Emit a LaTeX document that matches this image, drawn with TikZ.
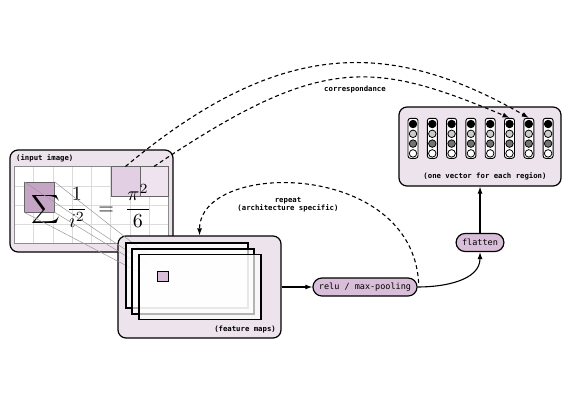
\documentclass[tikz,border=0pt]{standalone}
\usepackage{amsmath}
\usepackage{graphicx}
\usepackage{fontspec}
\setmonofont{DejaVu Sans Mono}
\usepackage{tikz}
\usetikzlibrary{arrows.meta}
\definecolor{panelfill}{HTML}{EDE3ED}
\definecolor{pillfill}{HTML}{D8BED8}
\definecolor{selfill}{HTML}{C6A4C6}
\definecolor{winfill}{HTML}{E3CFE3}
\definecolor{winfilltwo}{HTML}{EFE3EF}
\tikzstyle{panel}=[draw=black, line width=1.2pt, rounded corners=8pt, fill=panelfill, inner sep=0pt]
\tikzstyle{pill}=[draw=black, line width=1.2pt, rounded corners=9pt, fill=pillfill, minimum height=18pt, inner xsep=6pt, font=\ttfamily\fontsize{8.5}{10}\selectfont]
\tikzstyle{caption}=[inner sep=0pt, font=\ttfamily\bfseries\fontsize{7.3}{7.8}\selectfont]
\tikzstyle{arrow}=[draw=black, line width=1.1pt, ->, >={Latex[length=7pt,width=5pt]}]
\tikzstyle{dasharrow}=[arrow, dash pattern=on 4pt off 3pt]
\tikzstyle{window}=[draw=black!60, line width=0.5pt, inner sep=0pt]
\tikzstyle{proj}=[draw=black!40, line width=0.5pt]
\tikzstyle{map}=[draw=black, line width=1.1pt, fill=white, fill opacity=0.7, minimum width=122pt, minimum height=65pt, inner sep=0pt]
\tikzstyle{column}=[draw=black, line width=0.9pt, rounded corners=2.5pt, fill=white, minimum width=10pt, minimum height=40pt, inner sep=0pt]
\tikzstyle{unit}=[circle, draw=black, line width=0.8pt, minimum size=7.5pt, inner sep=0pt]

\begin{document}
\begin{tikzpicture}[x=1pt, y=1pt]
	\useasboundingbox (0,0) rectangle (569,400);
	\begin{scope}
		% input image with its grid
		\node (in) at (91.5,199)[panel, minimum width=163pt, minimum height=102pt] {};
		\node (inlabel) at (16,242)[caption, anchor=west] {(input image)};
		\node (img) at (91.5,195)[fill=white, minimum width=154pt, minimum height=77pt, inner sep=0pt] {};
		\draw[black!14, line width=0.5pt, step=19.25, shift={(img.south west)}] (0,0) grid (154,77);
		\draw[black!45, line width=1pt] (img.south west) rectangle (img.north east);
		\node (sig) at (39.3,203)[window, fill=selfill, minimum size=30pt] {};
		\node (pa) at (125.5,218.3)[window, fill=winfill, minimum width=29pt, minimum height=30pt] {};
		\node (pb) at (154,218.3)[window, fill=winfilltwo, minimum width=28pt, minimum height=30pt] {};
		\node (eq) at (91,194) {\scalebox{2.0}{$\displaystyle\sum\,\frac{1}{i^2}\;=\;\frac{\pi^2}{6}$}};
	\end{scope}
	\begin{scope}
		% feature maps
		\node (fm) at (199.5,113)[panel, minimum width=163pt, minimum height=102pt] {};
		\node (fmlabel) at (276,71)[caption, anchor=east] {(feature maps)};
		\path node (cellpos) at (163,123.5)[minimum size=10.5pt, inner sep=0pt] {};
		\draw[proj] (sig.north west) -- (cellpos.north west);
		\draw[proj] (sig.north east) -- (cellpos.north east);
		\draw[proj] (sig.south west) -- (cellpos.south west);
		\draw[proj] (sig.south east) -- (cellpos.south east);
		\node (m1) at (187,124.5)[map] {};
		\node (m2) at (193,118.5)[map] {};
		\node (m3) at (200,113)[map] {};
		\node (cell) at (cellpos)[draw=black, line width=1pt, fill=pillfill, minimum size=10.5pt, inner sep=0pt] {};
	\end{scope}
	\begin{scope}
		% layers and output vectors
		\node (relu) at (365,113)[pill] {relu / max-pooling};
		\node (flat) at (480,157.5)[pill] {flatten};
		\node (vec) at (480,253.5)[panel, minimum width=162pt, minimum height=79pt] {};
		\foreach \i in {1,...,8} {
			\node (v\i) at ({393.7+19.3*\i},261.7)[column] {};
			\foreach \c [count=\k] in {black, black!20, black!55, white}
				\node (u\i\k) at ({393.7+19.3*\i},{285.8-9.8*\k})[unit, fill=\c] {};
		}
		\node (veclabel) at (485,224)[caption] {(one vector for each region)};
		\node (corr) at (355,311)[caption] {correspondance};
		\node (rep) at (288,195)[caption, align=center] {repeat\\(architecture specific)};
	\end{scope}
	\begin{scope}
		\path [arrow] (fm) edge (relu);
		\path [arrow] (relu) edge[out=0, in=-90] (flat);
		\path [arrow] (flat) edge (vec);
		\draw [dasharrow] ([xshift=1pt, yshift=4pt]relu.east) .. controls (412,240) and (200,240) .. (fm.north);
		\draw [dasharrow] (pa.north) .. controls (279,361.6) and (389.4,362) .. (v7.north);
		\draw [dasharrow] (pb.north) .. controls (319.5,345) and (371,340.6) .. (v6.north);
	\end{scope}
\end{tikzpicture}
\end{document}
